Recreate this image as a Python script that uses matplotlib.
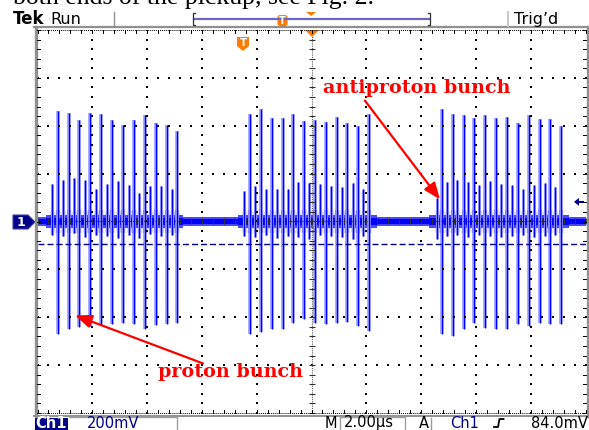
import matplotlib
matplotlib.use("Agg")
import matplotlib.pyplot as plt
from matplotlib.patches import Polygon, FancyBboxPatch, Rectangle
import numpy as np

W, H = 589, 430

# Bunch arrival times (µs relative to trigger) and peak amplitudes (mV)
proton_t = [-9.25, -8.86, -8.47, -8.07, -7.68, -7.27, -6.87, -6.47, -6.07, -5.68, -5.29, -4.91,
            -2.26, -1.85, -1.45, -1.05, -0.66, -0.27, 0.12, 0.52, 0.92, 1.31, 1.71, 2.11,
            4.76, 5.15, 5.56, 5.93, 6.33, 6.73, 7.14, 7.53, 7.93, 8.33, 8.72, 9.12]
proton_hi = [460, 455, 422, 455, 447, 422, 405, 426, 443, 413, 405, 377,
             451, 471, 433, 433, 447, 419, 423, 415, 437, 412, 401, 447,
             468, 447, 443, 433, 443, 433, 437, 412, 443, 429, 429, 401]
proton_lo = [-472, -447, -441, -437, -433, -430, -426, -430, -451, -434, -430, -422,
             -472, -461, -448, -448, -423, -409, -423, -430, -423, -420, -437, -458,
             -472, -479, -448, -423, -444, -451, -448, -430, -437, -423, -430, -427]

pbar_t = [-9.48, -9.08, -8.66, -8.27, -7.86, -7.46, -7.07, -6.66, -6.28, -5.89, -5.49, -5.10,
          -2.46, -2.06, -1.66, -1.27, -0.87, -0.48, -0.09, 0.31, 0.71, 1.10, 1.50, 1.89,
          4.57, 4.95, 5.32, 5.72, 6.12, 6.51, 6.92, 7.32, 7.72, 8.12, 8.52, 8.90]
pbar_hi = [157, 175, 180, 172, 134, 157, 171, 154, 117, 147, 147, 137,
           129, 147, 137, 137, 134, 166, 159, 157, 150, 145, 162, 134,
           99, 164, 175, 164, 152, 168, 157, 154, 137, 154, 162, 143]
pbar_lo = [-55, -60, -50, -65, -55, -62, -70, -58, -68, -52, -60, -55,
           -60, -65, -55, -70, -60, -66, -72, -58, -62, -66, -74, -60,
           -75, -60, -55, -65, -58, -62, -66, -60, -58, -64, -60, -56]

# Baseline noise envelope: (start µs, end µs, half-width mV)
noise_t0 = [-10.0, -9.7, -4.7, -2.7, 2.4, 4.3, 9.4]
noise_t1 = [-9.7, -4.7, -2.7, 2.4, 4.3, 9.4, 10.0]
noise_hw = [18, 26, 18, 26, 18, 26, 18]

volts_per_div = 200      # mV/div
time_per_div = 2.0       # µs/div
trigger_level = 84.0     # mV
cursor_level = -92       # mV

BLUE = "#0000FF"
HALO = "#9A9AFF"
NAVY = "#000088"
ORANGE = "#FF7A00"
RED = "#FF0000"

fig = plt.figure(figsize=(W / 100, H / 100), dpi=100)
fig.patch.set_facecolor("white")

L, R, T, B = 37.5, 585.5, 30.0, 413.0
ax = fig.add_axes([L / W, 1 - B / H, (R - L) / W, (B - T) / H])
ax.set_xlim(-5 * time_per_div, 5 * time_per_div)
ax.set_ylim(-4 * volts_per_div, 4 * volts_per_div)
ax.set_xticks([])
ax.set_yticks([])
for s in ax.spines.values():
    s.set_visible(False)

# baseline noise band
for t0, t1, hw in zip(noise_t0, noise_t1, noise_hw):
    ax.fill_between([t0, t1], -hw, hw, color="#4848FF", lw=0, zorder=2)
    ax.fill_between([t0, t1], -hw * 0.55, hw * 0.55, color=BLUE, lw=0, zorder=2)

# ringing around each bunch
ax.vlines(proton_t, -50, 50, color="#3030FF", lw=3.0, zorder=2)
ax.vlines(pbar_t, -42, 42, color="#3030FF", lw=2.4, zorder=2)

# bunch pulses: soft halo then core
ax.vlines(proton_t, proton_lo, proton_hi, color=HALO, lw=2.6, zorder=3)
ax.vlines(proton_t, proton_lo, proton_hi, color=BLUE, lw=0.9, zorder=3)
ax.vlines(pbar_t, pbar_lo, pbar_hi, color=HALO, lw=2.2, zorder=3)
ax.vlines(pbar_t, pbar_lo, pbar_hi, color=BLUE, lw=0.9, zorder=3)

# cursor line
ax.axhline(cursor_level, color=NAVY, lw=1.0, dashes=(4.3, 2.2), zorder=4)

# graticule dots
xmaj = [-8, -6, -4, -2, 2, 4, 6, 8]
ymaj = [-600, -400, -200, 200, 400, 600]
ysub = np.arange(-800, 801, volts_per_div / 5)
xsub = np.arange(-10, 10.001, time_per_div / 5)
gx = [x for x in xmaj for _ in ysub] + [x for _ in ymaj for x in xsub]
gy = [y for _ in xmaj for y in ysub] + [y for y in ymaj for _ in xsub]
ax.scatter(gx, gy, s=0.9, marker="s", color="black", lw=0, zorder=5)

# centre cross with fine ticks
ax.plot([0, 0], [-800, 800], color="#606060", lw=0.8, ls=(0, (1, 1)), zorder=5)
ax.plot([-10, 10], [0, 0], color="#202020", lw=0.8, ls=(0, (1, 1.5)), zorder=5)
ax.plot(np.zeros_like(ysub), ysub, ls="none", marker="_", ms=4.5, mew=0.8,
        color="#303030", zorder=5)
ax.plot(xsub, np.zeros_like(xsub), ls="none", marker="|", ms=4.5, mew=0.8,
        color="#303030", zorder=5)

# annotations
arrow = dict(arrowstyle="-|>,head_length=1.0,head_width=0.4", color=RED, lw=1.6,
             shrinkA=0, shrinkB=0)
ax.text(3.85, 559, "antiproton bunch", ha="center", va="center", color=RED,
        fontsize=13.8, family="DejaVu Serif", fontweight="bold", zorder=6)
ax.annotate("", xy=(4.69, 92), xytext=(1.95, 505), arrowprops=arrow, zorder=6)
ax.text(-2.97, -630, "proton bunch", ha="center", va="center", color=RED,
        fontsize=13.8, family="DejaVu Serif", fontweight="bold", zorder=6)
ax.annotate("", xy=(-8.63, -392), xytext=(-3.96, -593), arrowprops=arrow, zorder=6)

# ---- screen furniture in pixel coordinates ----
ov = fig.add_axes([0, 0, 1, 1], zorder=5)
ov.set_xlim(0, W)
ov.set_ylim(H, 0)
ov.axis("off")
ov.patch.set_alpha(0)

GRAY = "#909090"
ov.plot([34, 589], [27, 27], color=GRAY, lw=1.6)
ov.plot([35.5, 35.5], [27, 416], color=GRAY, lw=2.4)
ov.plot([587.5, 587.5], [27, 416], color=GRAY, lw=2.4)
ov.plot([34, 589], [415.5, 415.5], color=GRAY, lw=1.4)
ov.plot([37, 586], [29.5, 29.5], color="black", lw=0.7, ls=(0, (1, 1)))
ov.plot([37, 586], [413, 413], color="black", lw=0.7, ls=(0, (1, 1)))
step = (R - L) / 50
for k in range(51):
    x = L + k * step
    ov.plot([x, x], [29.5, 32.5], color="black", lw=0.7)
    ov.plot([x, x], [410, 413], color="black", lw=0.7)
vstep = (B - T) / 40
for k in range(41):
    y = T + k * vstep
    ov.plot([37, 40], [y, y], color="black", lw=0.7)
    ov.plot([583, 586], [y, y], color="black", lw=0.7)

# status bar (top)
fig.text(13 / W, 1 - 4 / H, "both ends of the pickup, see Fig. 2.", family="Liberation Serif",
         fontsize=18.5, va="baseline", ha="left", color="black")
ov.text(13, 24, "Tek", fontsize=12, fontweight="bold", va="baseline", ha="left",
        family="DejaVu Sans")
ov.text(50, 24, "Run", fontsize=11.5, va="baseline", ha="left", family="DejaVu Sans")
ov.plot([114, 114], [12, 26], color=GRAY, lw=1)
ov.plot([508, 508], [12, 26], color="#C8C8C8", lw=1.5)
ov.text(514, 24, "Trig\u2019d", fontsize=11.5, va="baseline", ha="left", family="DejaVu Sans")
ov.plot([194, 429], [19, 19], color="#6868C8", lw=1.6)
ov.plot([195, 193, 193, 195], [13, 13, 25, 25], color="#303030", lw=0.9)
ov.plot([428, 430, 430, 428], [13, 13, 25, 25], color="#303030", lw=0.9)
ov.add_patch(FancyBboxPatch((277.5, 15), 10, 11, boxstyle="round,pad=0,rounding_size=2.5",
                            fc=ORANGE, ec="none"))
ov.text(282.5, 21, "T", color="white", fontsize=7, fontweight="bold",
        ha="center", va="center")
ov.add_patch(Polygon([[306, 12], [316, 12], [311, 16]], closed=True, fc=ORANGE, ec="none"))

# trigger-position marker on the graticule
ov.add_patch(Polygon([[305, 30], [319, 30], [312, 37]], closed=True, fc=ORANGE, ec="none"))
ov.add_patch(Polygon([[237, 37], [249, 37], [249, 46], [243, 51], [237, 46]], closed=True,
                     fc=ORANGE, ec="none"))
ov.text(243, 43, "T", color="white", fontsize=7.5, fontweight="bold",
        ha="center", va="center")

# channel ground marker and trigger level arrow
y0 = 222.0
ov.add_patch(Polygon([[13, y0 - 7], [28, y0 - 7], [35, y0], [28, y0 + 7], [13, y0 + 7]],
                     closed=True, fc=NAVY, ec="#4040A0", lw=0.8))
ov.text(20.5, y0 + 0.5, "1", color="white", fontsize=9, fontweight="bold",
        ha="center", va="center")
ytr = 222.0 - trigger_level / volts_per_div * (B - T) / 8
ov.add_patch(Polygon([[574, ytr], [579, ytr - 4], [579, ytr + 4]], closed=True,
                     fc=NAVY, ec="none"))
ov.plot([578, 583], [ytr, ytr], color=NAVY, lw=1.5)

# status bar (bottom)
BY = 427.5
ov.add_patch(Rectangle((35, 418), 33, 13, fc=NAVY, ec="none"))
ov.text(51.5, BY, "Ch1", color="white", fontsize=10.5, fontweight="bold",
        ha="center", va="baseline")
ov.plot([69, 177, 177], [417, 417, 431], color="#A0A0A0", lw=1)
ov.text(87, BY, "200mV", color=NAVY, fontsize=10.5, ha="left", va="baseline")
ov.text(325, BY, "M", color="black", fontsize=10.5, ha="left", va="baseline")
ov.plot([340, 340], [417, 431], color="#A0A0A0", lw=1)
ov.plot([340, 405, 405], [417, 417, 431], color="#A0A0A0", lw=1)
ov.text(344, BY, "2.00\u00b5s", color="black", fontsize=10.5, ha="left", va="baseline")
ov.text(419, BY, "A", color="black", fontsize=10.5, ha="left", va="baseline")
ov.plot([430.5, 430.5], [418, 430], color="#A0A0A0", lw=1)
ov.text(450, BY, "Ch1", color=NAVY, fontsize=10.5, ha="left", va="baseline")
ov.plot([494, 498, 499.5, 503.5], [427, 427, 419, 419], color="black", lw=1.3)
ov.text(588, BY, "84.0mV", color="black", fontsize=10.5, ha="right", va="baseline")

fig.savefig("out.png", dpi=100, facecolor="white")
